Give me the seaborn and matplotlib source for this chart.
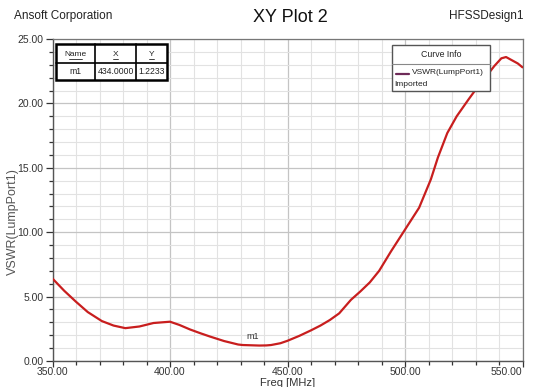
import matplotlib
matplotlib.use("Agg")
import matplotlib.pyplot as plt
from matplotlib.patches import Rectangle
from matplotlib.lines import Line2D
from matplotlib.ticker import MultipleLocator, FormatStrFormatter
import seaborn as sns
import pandas as pd

# VSWR sweep of LumpPort1
freq_mhz = [350, 355, 360, 365, 371, 376, 381, 387, 393, 400, 404, 408.5, 413, 417,
            423, 429, 431, 434, 438, 441, 443, 447, 450, 455, 460, 464, 468, 472,
            477, 481, 485, 489, 494, 500, 506, 511, 514, 518, 522, 527, 531, 535,
            538, 541, 543, 546, 548, 550]
vswr = [6.40, 5.45, 4.60, 3.80, 3.10, 2.75, 2.55, 2.68, 2.95, 3.05, 2.80, 2.45, 2.15, 1.90,
        1.55, 1.28, 1.24, 1.2233, 1.20, 1.21, 1.24, 1.38, 1.57, 1.95, 2.38, 2.75, 3.18, 3.70,
        4.75, 5.40, 6.10, 7.00, 8.50, 10.20, 11.90, 14.10, 15.80, 17.70, 19.00, 20.30, 21.30, 22.20,
        22.90, 23.50, 23.60, 23.30, 23.10, 22.80]

# marker table
marker_names = ["m1"]
marker_x = [434.0]
marker_y = [1.2233]

x_ticks = [350, 400, 450, 500, 550]
y_ticks = [0, 5, 10, 15, 20, 25]

sns.set_style("white")
plt.rcParams["font.family"] = ["Liberation Sans Narrow", "Liberation Sans", "DejaVu Sans"]

W, H = 536, 387
fig = plt.figure(figsize=(W / 100, H / 100), dpi=100)
fig.patch.set_facecolor("white")


def fx(px):
    return px / W


def fy(py):
    return 1 - py / H


ax = fig.add_axes([fx(52.5), fy(361), (522.5 - 52.5) / W, (361 - 39) / H])

df = pd.DataFrame({"Freq [MHz]": freq_mhz, "VSWR(LumpPort1)": vswr})
sns.lineplot(data=df, x="Freq [MHz]", y="VSWR(LumpPort1)", ax=ax,
             color="#c81e1e", linewidth=1.6, zorder=3)

ax.set_xlim(350, 550)
ax.set_ylim(0, 25)
ax.set_xticks(x_ticks)
ax.set_yticks(y_ticks)
ax.xaxis.set_minor_locator(MultipleLocator(10))
ax.yaxis.set_minor_locator(MultipleLocator(1))
ax.xaxis.set_major_formatter(FormatStrFormatter("%.2f"))
ax.yaxis.set_major_formatter(FormatStrFormatter("%.2f"))

ax.grid(which="minor", color="#e2e2e2", linewidth=0.8, zorder=0)
ax.grid(which="major", color="#c4c4c4", linewidth=0.9, zorder=0)
ax.set_axisbelow(True)

ax.tick_params(axis="both", which="major", direction="out", length=5, width=0.9,
               colors="#333333", labelsize=7.5, pad=1.5, left=True, bottom=True)
ax.tick_params(axis="x", which="major", length=4, pad=0.5)
ax.tick_params(axis="both", which="minor", direction="out", length=3, width=0.9,
               colors="#333333", left=True, bottom=True)
# keep the last frequency label inside the figure
xlabels = ax.get_xticklabels()
xlabels[-1].set_horizontalalignment("right")

for side in ["left", "bottom"]:
    ax.spines[side].set_color("#555555")
    ax.spines[side].set_linewidth(1.0)
for side in ["top", "right"]:
    ax.spines[side].set_color("#777777")
    ax.spines[side].set_linewidth(0.9)

ax.set_xlabel("")
ax.set_ylabel("")
fig.text(fx(288), fy(382.5), "Freq [MHz]", ha="center", va="center", fontsize=8, color="#333333")
fig.text(fx(13), fy(222), "VSWR(LumpPort1)", ha="center", va="center", rotation=90,
         fontsize=9, color="#555555", family=["Liberation Sans", "DejaVu Sans"])

# header texts
fig.text(fx(14), fy(16), "Ansoft Corporation", ha="left", va="center", fontsize=8.5, color="#222222")
fig.text(fx(290), fy(18), "XY Plot 2", ha="center", va="center", fontsize=13, color="#111111")
fig.text(fx(524), fy(16), "HFSSDesign1", ha="right", va="center", fontsize=8.5, color="#222222")

# marker label on the curve
for name, mx, my in zip(marker_names, marker_x, marker_y):
    ax.annotate(name, (mx, my), xytext=(2, 3), textcoords="offset points",
                ha="center", va="bottom", fontsize=6.5, color="#333333", zorder=5)

# marker table
tb_left, tb_right, tb_top, tb_bottom = 56, 167, 44, 80
col_edges = [56, 95, 136, 167]
row_mid = 63
fig.add_artist(Rectangle((fx(tb_left), fy(tb_bottom)), (tb_right - tb_left) / W,
                         (tb_bottom - tb_top) / H, transform=fig.transFigure,
                         facecolor="white", edgecolor="black", linewidth=1.8, zorder=10))
for cx in col_edges[1:-1]:
    fig.add_artist(Line2D([fx(cx), fx(cx)], [fy(tb_top), fy(tb_bottom)],
                          transform=fig.transFigure, color="black", linewidth=1.2, zorder=11))
fig.add_artist(Line2D([fx(tb_left), fx(tb_right)], [fy(row_mid), fy(row_mid)],
                      transform=fig.transFigure, color="black", linewidth=1.2, zorder=11))
headers = ["Name", "X", "Y"]
for i, head in enumerate(headers):
    cx = (col_edges[i] + col_edges[i + 1]) / 2
    fig.text(fx(cx), fy(54), head, ha="center", va="center", fontsize=6, color="#222222", zorder=12)
    half = 3 + 2.6 * len(head)
    fig.add_artist(Line2D([fx(cx - half / 2), fx(cx + half / 2)], [fy(58.5), fy(58.5)],
                          transform=fig.transFigure, color="#222222", linewidth=0.6, zorder=12))
for name, mx, my in zip(marker_names, marker_x, marker_y):
    row = [name, f"{mx:.4f}", f"{my:.4f}"]
    for i, val in enumerate(row):
        cx = (col_edges[i] + col_edges[i + 1]) / 2
        fig.text(fx(cx), fy(72), val, ha="center", va="center", fontsize=6.2,
                 color="#222222", zorder=12)

# curve info box
lg_left, lg_right, lg_top, lg_bottom = 392, 490, 45, 91
fig.add_artist(Rectangle((fx(lg_left), fy(lg_bottom)), (lg_right - lg_left) / W,
                         (lg_bottom - lg_top) / H, transform=fig.transFigure,
                         facecolor="white", edgecolor="#555555", linewidth=1.0, zorder=10))
fig.add_artist(Line2D([fx(lg_left), fx(lg_right)], [fy(64), fy(64)],
                      transform=fig.transFigure, color="#888888", linewidth=0.8, zorder=11))
fig.text(fx((lg_left + lg_right) / 2), fy(54.5), "Curve Info", ha="center", va="center",
         fontsize=6.3, color="#222222", zorder=12)
fig.add_artist(Line2D([fx(396), fx(409)], [fy(73.5), fy(73.5)],
                      transform=fig.transFigure, color="#6e2a58", linewidth=1.6, zorder=12))
fig.text(fx(412), fy(73), "VSWR(LumpPort1)", ha="left", va="center",
         fontsize=6, color="#222222", zorder=12)
fig.text(fx(394), fy(84), "Imported", ha="left", va="center",
         fontsize=6, color="#222222", zorder=12)

fig.savefig("out.png", dpi=100, facecolor="white")
